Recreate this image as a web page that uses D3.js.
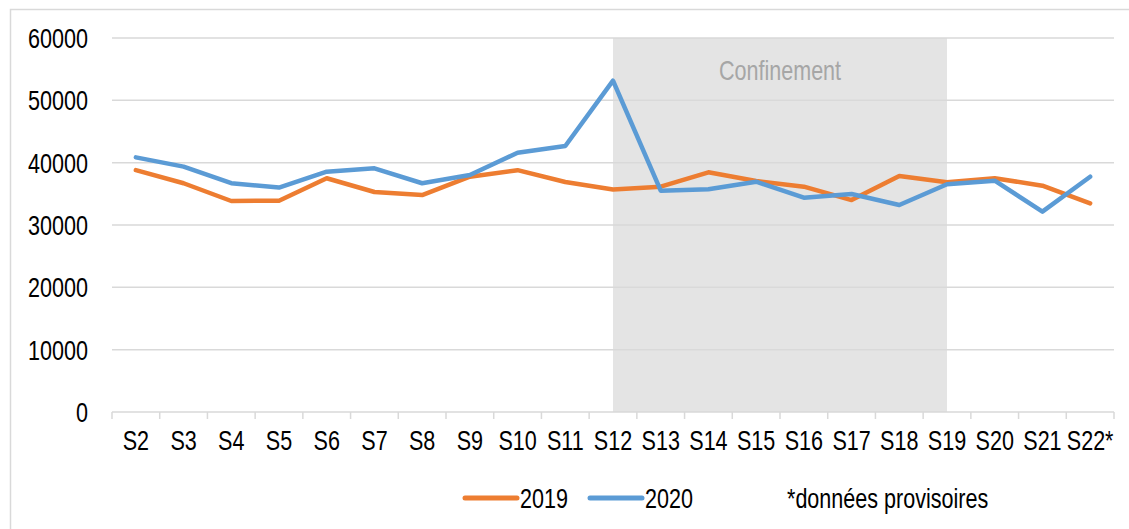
<!DOCTYPE html>
<html>
<head>
<meta charset="utf-8">
<script src="https://cdn.jsdelivr.net/npm/d3@7"></script>
<style>
  body { margin: 0; background: #fff; }
  svg text { font-family: "Liberation Sans", Arial, sans-serif; }
</style>
</head>
<body>
<svg id="chart"></svg>
<script>
// data
var weeks = ["S2","S3","S4","S5","S6","S7","S8","S9","S10","S11","S12","S13","S14","S15","S16","S17","S18","S19","S20","S21","S22*"];
var v2019 = [38800,36700,33850,33900,37500,35300,34800,37750,38800,36900,35700,36150,38450,37050,36150,34000,37860,36850,37500,36300,33480];
var v2020 = [40850,39360,36700,36000,38560,39100,36700,38020,41600,42680,53150,35500,35730,36950,34380,34980,33210,36530,37110,32140,37750];
var yTicks = [0,10000,20000,30000,40000,50000,60000];
var lockStart = "S12", lockEnd = "S19";

var W = 1129, H = 529;
var margin = {top: 38, right: 15, bottom: 117, left: 112};
var width = W - margin.left - margin.right,
    height = H - margin.top - margin.bottom;

// no narrow font installed, so squeeze the regular one
var NARROW = 0.77, FS = "28px";
function label(sel, x, y, anchor, txt) {
  return sel.append("text")
      .attr("transform", "translate(" + x + "," + y + ") scale(" + NARROW + ",1)")
      .attr("text-anchor", anchor)
      .style("font-size", FS)
      .attr("fill", "#000")
      .text(txt);
}

var svg = d3.select("#chart").attr("width", W).attr("height", H);

// outer frame
svg.append("path")
    .attr("d", "M10.5," + H + "V9.5H" + W)
    .attr("fill", "none")
    .attr("stroke", "#d9d9d9")
    .attr("stroke-width", 1.5);

var g = svg.append("g")
    .attr("transform", "translate(" + margin.left + "," + margin.top + ")");

var x = d3.scaleBand().domain(weeks).range([0, width]);
var y = d3.scaleLinear().domain([0, 60000]).range([height, 0]);
var cx = function(d) { return x(d) + x.bandwidth() / 2; };

// confinement band
g.append("rect")
    .attr("x", cx(lockStart))
    .attr("y", 0)
    .attr("width", cx(lockEnd) - cx(lockStart))
    .attr("height", height)
    .attr("fill", "#e4e4e4");

label(g, (cx(lockStart) + cx(lockEnd)) / 2, 42, "middle", "Confinement")
    .attr("fill", "#a6a6a6");

// grid lines
g.selectAll(".grid")
    .data(yTicks.filter(function(d) { return d > 0; }))
  .enter().append("line")
    .attr("x1", 0).attr("x2", width)
    .attr("y1", function(d) { return y(d); })
    .attr("y2", function(d) { return y(d); })
    .attr("stroke", "#d9d9d9")
    .attr("stroke-width", 1.5);

// y axis labels
yTicks.forEach(function(d) {
  label(g, -24, y(d) + 10, "end", d);
});

// x axis
var xAxis = g.append("g")
    .attr("transform", "translate(0," + height + ")");
xAxis.append("line")
    .attr("x1", 0).attr("x2", width)
    .attr("stroke", "#d9d9d9").attr("stroke-width", 1.5);
xAxis.selectAll(".tick")
    .data(weeks.concat([null]))
  .enter().append("line")
    .attr("x1", function(d, i) { return i < weeks.length ? x(d) : width; })
    .attr("x2", function(d, i) { return i < weeks.length ? x(d) : width; })
    .attr("y1", 0).attr("y2", 7)
    .attr("stroke", "#d9d9d9").attr("stroke-width", 1.5);
weeks.forEach(function(d) {
  label(xAxis, cx(d), 38, "middle", d);
});

// lines
var line = d3.line()
    .x(function(d, i) { return cx(weeks[i]); })
    .y(function(d) { return y(d); });

g.append("path").datum(v2019)
    .attr("d", line)
    .attr("fill", "none")
    .attr("stroke", "#ed7d31")
    .attr("stroke-width", 4.5)
    .attr("stroke-linejoin", "round")
    .attr("stroke-linecap", "round");

g.append("path").datum(v2020)
    .attr("d", line)
    .attr("fill", "none")
    .attr("stroke", "#5b9bd5")
    .attr("stroke-width", 4.5)
    .attr("stroke-linejoin", "round")
    .attr("stroke-linecap", "round");

// legend
var legend = [{name: "2019", color: "#ed7d31", x: 465}, {name: "2020", color: "#5b9bd5", x: 590}];
legend.forEach(function(d) {
  svg.append("line")
      .attr("x1", d.x).attr("x2", d.x + 52)
      .attr("y1", 498).attr("y2", 498)
      .attr("stroke", d.color)
      .attr("stroke-width", 5)
      .attr("stroke-linecap", "round");
  label(svg, d.x + 55, 508, "start", d.name);
});

label(svg, 787, 508, "start", "*données provisoires");
</script>
</body>
</html>
